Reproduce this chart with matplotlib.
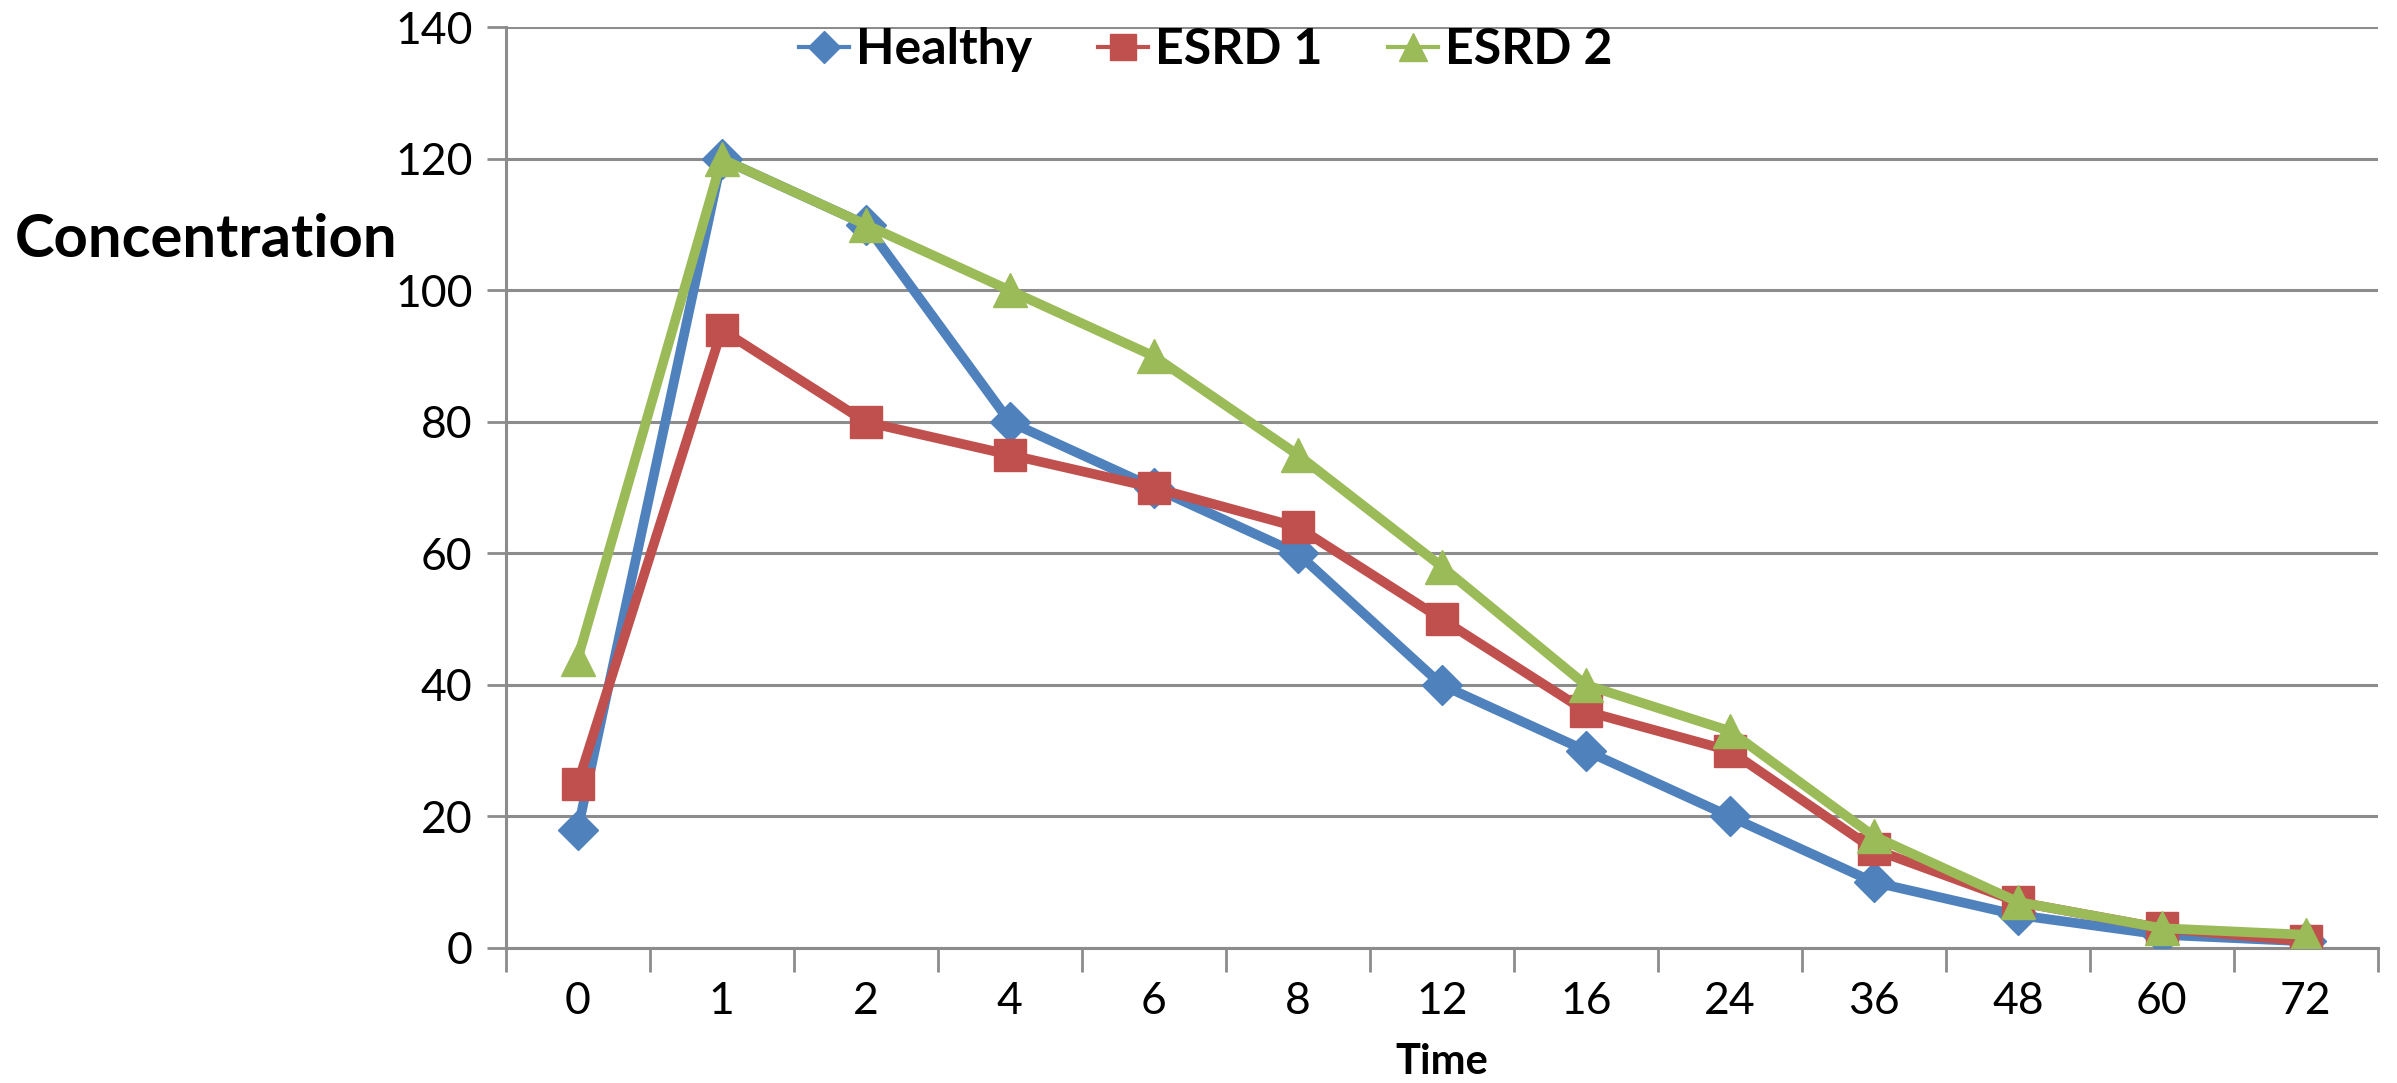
import numpy as np
import matplotlib
matplotlib.use("Agg")
import matplotlib.pyplot as plt

# data
times = ["0", "1", "2", "4", "6", "8", "12", "16", "24", "36", "48", "60", "72"]
healthy = [18, 120, 110, 80, 70, 60, 40, 30, 20, 10, 5, 2, 1]
esrd1 = [25, 94, 80, 75, 70, 64, 50, 36, 30, 15, 7, 3, 1]
esrd2 = [44, 120, 110, 100, 90, 75, 58, 40, 33, 17, 7, 3, 2]

plt.rcParams["font.family"] = ["Lato", "DejaVu Sans"]
grid_col = "#8c8c8c"

fig = plt.figure(figsize=(23.97, 10.83), dpi=100)
ax = fig.add_axes([0.211, 0.1247, 0.781, 0.850])

x = np.arange(len(times))
ax.plot(x, healthy, color="#4F81BD", lw=7, marker="D", ms=20, label="Healthy", zorder=3)
ax.plot(x, esrd1, color="#C0504D", lw=7, marker="s", ms=23, label="ESRD 1", zorder=4)
ax.plot(x, esrd2, color="#9BBB59", lw=7, marker="^", ms=25, label="ESRD 2", zorder=5)

ax.set_xlim(-0.5, len(times) - 0.5)
ax.set_ylim(0, 140)
ax.set_yticks(np.arange(0, 141, 20))
ax.yaxis.grid(True, color=grid_col, lw=2.2)
ax.set_axisbelow(True)

# category ticks between points, labels centred under points
ax.set_xticks(np.arange(-0.5, len(times)), minor=False)
ax.set_xticklabels([])
ax.set_xticks(x, minor=True)
ax.set_xticklabels(times, minor=True)
ax.tick_params(axis="x", which="major", length=17, width=2, color=grid_col)
ax.tick_params(axis="x", which="minor", length=0, pad=24, labelsize=32)
ax.tick_params(axis="y", length=14, width=2, color=grid_col, labelsize=32, pad=10)

for s in ["top", "right"]:
    ax.spines[s].set_visible(False)
for s in ["left", "bottom"]:
    ax.spines[s].set_color(grid_col)
    ax.spines[s].set_linewidth(2.2)

fig.text(0.006, 1 - 240 / 1083, "Concentration", fontsize=43, fontweight="bold", ha="left", va="center")
fig.text(0.6016, 1 - 1062 / 1083, "Time", fontsize=30, fontweight="bold", ha="center", va="center")

leg = fig.legend(loc="center", bbox_to_anchor=(0.503, 1 - 50 / 1083), ncol=3, frameon=False,
                 prop={"size": 36, "weight": "bold"}, handlelength=1.0, handletextpad=0.15,
                 columnspacing=1.3, markerscale=0.8)
for line in leg.get_lines():
    line.set_linewidth(3)

fig.savefig("out.png", dpi=100)
